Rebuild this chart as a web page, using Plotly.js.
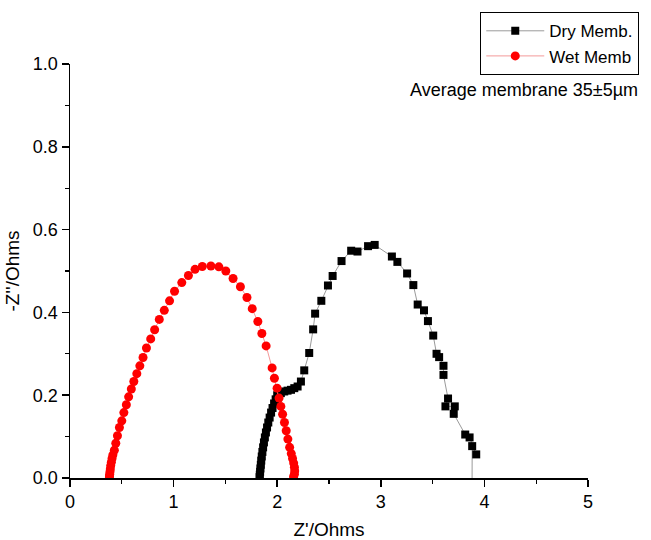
<!DOCTYPE html>
<html>
<head>
<meta charset="utf-8">
<script src="https://cdn.plot.ly/plotly-3.0.1.min.js"></script>
<style>html,body{margin:0;padding:0;background:#fff;}#chart{width:651px;height:540px;}</style>
</head>
<body>
<div id="chart"></div>
<script>
// Dry membrane (black squares)
const dryX = [1.830,1.832,1.835,1.838,1.842,1.846,1.851,1.857,1.864,1.872,1.881,1.891,1.902,1.914,1.927,1.941,1.955,1.970,1.985,2.000,
  2.035,2.068,2.100,2.133,2.165,2.197,2.229,2.261,2.309,2.347,2.366,2.426,2.490,2.535,2.621,2.714,2.775,2.877,2.941,
  3.107,3.160,3.254,3.314,3.356,3.417,3.455,3.506,3.538,3.563,3.605,3.605,3.649,3.624,3.714,3.704,3.815,3.857,3.921,3.882,3.880];
const dryY = [0.002,0.008,0.015,0.023,0.032,0.042,0.052,0.063,0.074,0.086,0.098,0.110,0.122,0.134,0.146,0.158,0.169,0.180,0.190,0.200,
  0.205,0.209,0.211,0.213,0.217,0.221,0.233,0.260,0.302,0.359,0.397,0.428,0.465,0.488,0.524,0.549,0.547,0.560,0.563,
  0.535,0.522,0.494,0.466,0.419,0.405,0.379,0.344,0.300,0.292,0.271,0.249,0.192,0.173,0.173,0.155,0.105,0.098,0.057,0.077,-0.100];

// Wet membrane (red circles)
const wetX = [0.380,0.381,0.383,0.386,0.389,0.393,0.399,0.406,0.414,0.428,0.442,0.458,0.477,0.500,0.520,0.544,0.566,0.592,0.616,0.645,
  0.674,0.705,0.738,0.779,0.817,0.862,0.910,0.961,1.009,1.079,1.143,1.207,1.277,1.360,1.437,1.504,1.574,1.645,1.708,1.759,
  1.813,1.852,1.893,1.951,1.973,1.999,2.018,2.035,2.052,2.070,2.087,2.103,2.120,2.136,2.148,2.159,2.166,2.169,2.166,2.158];
const wetY = [0.000,0.004,0.009,0.015,0.022,0.030,0.038,0.047,0.056,0.067,0.084,0.102,0.122,0.138,0.158,0.177,0.196,0.215,0.233,0.252,
  0.271,0.291,0.314,0.336,0.358,0.383,0.405,0.428,0.451,0.472,0.489,0.504,0.511,0.512,0.510,0.500,0.482,0.462,0.436,0.409,
  0.378,0.349,0.319,0.266,0.241,0.217,0.193,0.173,0.154,0.134,0.114,0.094,0.074,0.059,0.047,0.036,0.026,0.017,0.009,0.003];

const seriesNames = ["Dry Memb.", "Wet Memb"];
const xTitle = "Z'/Ohms";
const yTitle = "-Z''/Ohms";
const noteText = "Average membrane 35±5µm";

const FONT = "Liberation Sans, Arial, sans-serif";

const traces = [
  {x: dryX, y: dryY, name: seriesNames[0], type: 'scatter', mode: 'lines+markers',
   line: {color: '#9a9a9a', width: 1},
   marker: {symbol: 'square', size: 8, color: '#000'}},
  {x: wetX, y: wetY, name: seriesNames[1], type: 'scatter', mode: 'lines+markers',
   line: {color: '#f39a9a', width: 1},
   marker: {symbol: 'circle', size: 9, color: '#ff0000'}}
];

const layout = {
  width: 651, height: 540,
  margin: {l: 70, r: 61, t: 58, b: 62},
  paper_bgcolor: '#fff', plot_bgcolor: '#fff',
  font: {family: FONT, size: 18, color: '#000'},
  showlegend: true,
  legend: {x: 0.792, y: 1.125, xanchor: 'left', yanchor: 'top',
           bordercolor: '#000', borderwidth: 1, bgcolor: '#fff',
           itemwidth: 58,
           font: {family: FONT, size: 17, color: '#000'}},
  xaxis: {range: [0, 5], dtick: 1, tick0: 0, showgrid: false, zeroline: false,
          showline: true, linecolor: '#000', linewidth: 1.5,
          ticks: 'outside', ticklen: 7, tickwidth: 1.5, tickcolor: '#000',
          minor: {dtick: 0.5, ticks: 'outside', ticklen: 4, tickwidth: 1.2, tickcolor: '#000', showgrid: false},
          tickfont: {family: FONT, size: 18},
          title: {text: xTitle, font: {family: FONT, size: 19}, standoff: 16}},
  yaxis: {range: [0, 1], dtick: 0.2, tick0: 0, tickformat: '.1f', showgrid: false, zeroline: false,
          showline: true, linecolor: '#000', linewidth: 1.5,
          ticks: 'outside', ticklen: 7, tickwidth: 1.5, tickcolor: '#000',
          minor: {dtick: 0.1, ticks: 'outside', ticklen: 4, tickwidth: 1.2, tickcolor: '#000', showgrid: false},
          tickfont: {family: FONT, size: 18},
          title: {text: yTitle, font: {family: FONT, size: 19}, standoff: 8}},
  shapes: [
    {type: 'line', xref: 'paper', yref: 'y', x0: -0.015, x1: 0, y0: 0, y1: 0,
     line: {color: '#000', width: 1.5}}
  ],
  annotations: [
    {text: noteText, xref: 'paper', yref: 'paper', x: 1.1, y: 0.938,
     xanchor: 'right', yanchor: 'middle', showarrow: false,
     font: {family: FONT, size: 18, color: '#000'}}
  ]
};

Plotly.newPlot('chart', traces, layout, {displayModeBar: false, staticPlot: true});
</script>
</body>
</html>
